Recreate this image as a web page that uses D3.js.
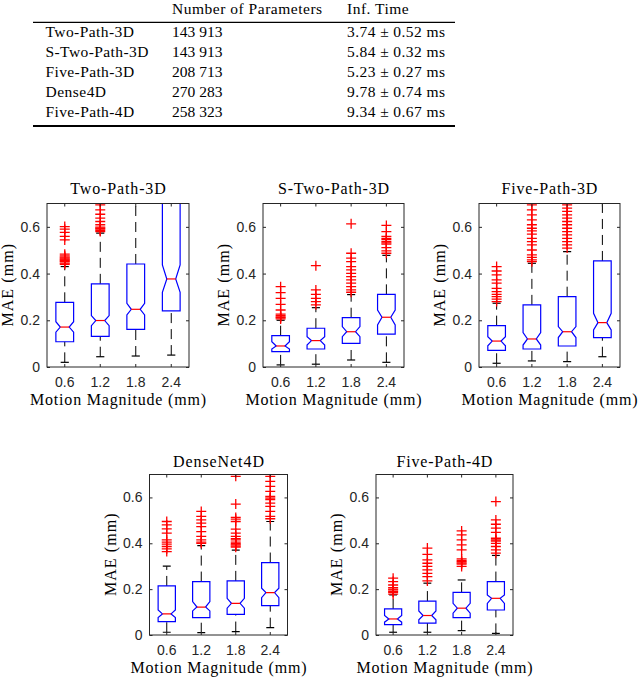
<!DOCTYPE html>
<html>
<head>
<meta charset="utf-8">
<script src="https://cdn.jsdelivr.net/npm/d3@7"></script>
<style>
  body { margin: 0; background: #fff; }
  svg { display: block; }
  .serif { font-family: "Liberation Serif", "Times New Roman", serif; fill: #000; }
  .tick text { font-family: "Liberation Sans", Arial, sans-serif; font-size: 14px; fill: #262626; }
  .tick line { stroke: #262626; }
</style>
</head>
<body>
<svg id="fig" width="640" height="677"></svg>
<script>

// ---- table data ----
var tableHeader = ["", "Number of Parameters", "Inf. Time"];
var tableModels = ["Two-Path-3D", "S-Two-Path-3D", "Five-Path-3D", "Dense4D", "Five-Path-4D"];
var tableParams = ["143 913", "143 913", "208 713", "270 283", "258 323"];
var tableTimes = ["3.74 ± 0.52 ms", "5.84 ± 0.32 ms", "5.23 ± 0.27 ms", "9.78 ± 0.74 ms", "9.34 ± 0.67 ms"];

// ---- boxplot data (MAE in mm), one row per panel, one value per magnitude ----
var magnitudes = ["0.6", "1.2", "1.8", "2.4"];
var panelTitles = ["Two-Path-3D", "S-Two-Path-3D", "Five-Path-3D", "DenseNet4D", "Five-Path-4D"];

var whiskerLo = [
  [0.020, 0.044, 0.047, 0.051],
  [0.009, 0.012, 0.030, 0.020],
  [0.016, 0.026, 0.023, 0.044],
  [0.012, 0.010, 0.015, 0.032],
  [0.012, 0.012, 0.019, 0.007]
];
var q1 = [
  [0.108, 0.131, 0.161, 0.240],
  [0.066, 0.077, 0.101, 0.141],
  [0.071, 0.077, 0.090, 0.126],
  [0.058, 0.076, 0.090, 0.128],
  [0.045, 0.052, 0.076, 0.109]
];
var medians = [
  [0.171, 0.199, 0.247, 0.377],
  [0.090, 0.113, 0.151, 0.213],
  [0.111, 0.120, 0.151, 0.190],
  [0.092, 0.122, 0.138, 0.185],
  [0.070, 0.085, 0.117, 0.160]
];
var q3 = [
  [0.277, 0.356, 0.441, 0.760],
  [0.134, 0.166, 0.211, 0.311],
  [0.177, 0.266, 0.301, 0.454],
  [0.214, 0.233, 0.236, 0.316],
  [0.114, 0.148, 0.186, 0.233]
];
var whiskerHi = [
  [0.430, 0.573, 0.750, 1.000],
  [0.200, 0.254, 0.310, 0.478],
  [0.273, 0.444, 0.494, 0.750],
  [0.300, 0.390, 0.370, 0.495],
  [0.175, 0.226, 0.240, 0.347]
];
var notchLo = [
  [0.149, 0.177, 0.223, 0.320],
  [0.077, 0.094, 0.130, 0.180],
  [0.091, 0.094, 0.126, 0.159],
  [0.076, 0.105, 0.117, 0.163],
  [0.056, 0.066, 0.095, 0.138]
];
var notchHi = [
  [0.194, 0.220, 0.273, 0.437],
  [0.108, 0.130, 0.173, 0.244],
  [0.130, 0.147, 0.173, 0.230],
  [0.109, 0.146, 0.160, 0.204],
  [0.085, 0.105, 0.138, 0.175]
];
var outliers = [
  [
    [0.601, 0.590, 0.576, 0.559, 0.544, 0.483, 0.476, 0.470, 0.466, 0.462, 0.459, 0.455, 0.451, 0.445, 0.440],
    [0.720, 0.709, 0.694, 0.673, 0.654, 0.637, 0.623, 0.609, 0.599, 0.594, 0.590, 0.585, 0.580],
    [],
    []
  ],
  [
    [0.344, 0.318, 0.294, 0.268, 0.244, 0.226, 0.220, 0.215, 0.211, 0.206],
    [0.434, 0.330, 0.311, 0.294, 0.280, 0.266],
    [0.613, 0.487, 0.466, 0.451, 0.430, 0.416, 0.401, 0.387, 0.373, 0.359, 0.344, 0.330, 0.320],
    [0.606, 0.580, 0.559, 0.551, 0.545, 0.537, 0.531, 0.526, 0.511, 0.497, 0.487]
  ],
  [
    [0.430, 0.411, 0.394, 0.373, 0.359, 0.337, 0.323, 0.311, 0.301, 0.291, 0.280],
    [0.694, 0.673, 0.651, 0.630, 0.609, 0.594, 0.583, 0.569, 0.551, 0.537, 0.523, 0.501, 0.480, 0.469, 0.459, 0.451],
    [0.694, 0.680, 0.666, 0.651, 0.637, 0.623, 0.609, 0.594, 0.580, 0.566, 0.551, 0.537, 0.523, 0.509],
    []
  ],
  [
    [0.495, 0.480, 0.463, 0.444, 0.415, 0.405, 0.396, 0.386, 0.376, 0.364],
    [0.539, 0.517, 0.502, 0.488, 0.473, 0.451, 0.430, 0.415, 0.405, 0.400],
    [0.692, 0.571, 0.513, 0.505, 0.495, 0.462, 0.444, 0.430, 0.420, 0.415, 0.405, 0.398, 0.393, 0.388, 0.383],
    [0.706, 0.692, 0.670, 0.648, 0.626, 0.604, 0.597, 0.590, 0.575, 0.561, 0.539, 0.517, 0.507]
  ],
  [
    [0.248, 0.233, 0.218, 0.207, 0.200, 0.197, 0.190, 0.186, 0.178],
    [0.379, 0.352, 0.328, 0.313, 0.299, 0.284, 0.269, 0.255, 0.236],
    [0.454, 0.437, 0.415, 0.393, 0.371, 0.332, 0.325, 0.320, 0.314, 0.309, 0.299],
    [0.582, 0.502, 0.483, 0.466, 0.448, 0.422, 0.415, 0.410, 0.400, 0.386, 0.371, 0.357]
  ]
];
var yTicks = [0, 0.2, 0.4, 0.6];

// ---- layout (pixels) ----
var panels = [
  {x: 47,    y: 203.5, w: 142, h: 163.5},
  {x: 263,   y: 203.5, w: 141, h: 163.5},
  {x: 479,   y: 203.5, w: 141, h: 163.5},
  {x: 149.5, y: 474.5, w: 138, h: 160.5},
  {x: 376,   y: 474.5, w: 137, h: 160.5}
];
var cmWiden = 1.1;   // Computer Modern is wider than Times

var svg = d3.select("#fig");

function stretch(sel, f) {
  sel.each(function() {
    var n = this.getComputedTextLength();
    d3.select(this).attr("textLength", n * f).attr("lengthAdjust", "spacing");
  });
}

// ---- table ----
var tbl = svg.append("g").attr("class", "serif").style("font-size", "15.5px");
var colX = [45.5, 172, 347];

tbl.selectAll("text.head")
  .data(tableHeader)
  .enter().append("text")
  .attr("class", "head")
  .attr("x", function(d, i) { return colX[i]; })
  .attr("y", 13.5)
  .text(function(d) { return d; })
  .call(stretch, 1.07);

tbl.append("line").attr("x1", 33).attr("x2", 455).attr("y1", 22.3).attr("y2", 22.3)
  .attr("stroke", "#000").attr("stroke-width", 1.3);
tbl.append("line").attr("x1", 33).attr("x2", 455).attr("y1", 126).attr("y2", 126)
  .attr("stroke", "#000").attr("stroke-width", 2);

var rows = tbl.selectAll("g.row")
  .data(tableModels)
  .enter().append("g")
  .attr("class", "row")
  .attr("transform", function(d, i) { return "translate(0," + (37 + i * 20) + ")"; });

rows.append("text").attr("x", colX[0]).text(function(d) { return d; }).call(stretch, 1.05);
rows.append("text").attr("x", colX[1]).text(function(d, i) { return tableParams[i]; });
rows.append("text").attr("x", colX[2]).text(function(d, i) { return tableTimes[i]; }).call(stretch, 1.06);

// ---- box plots ----
var plus = "M-5,0H5M0,-5V5";

panels.forEach(function(L, p) {
  var g = svg.append("g").attr("transform", "translate(" + L.x + "," + L.y + ")");

  var x = d3.scaleBand().domain(magnitudes).range([0, L.w]).padding(0);
  var y = d3.scaleLinear().domain([0, 0.7]).range([L.h, 0]);
  var bw = x.bandwidth() * 0.5;
  var inset = bw / 4;

  g.append("clipPath").attr("id", "clip" + p)
    .append("rect").attr("width", L.w).attr("height", L.h);

  var plot = g.append("g").attr("clip-path", "url(#clip" + p + ")");

  var boxes = plot.selectAll("g.box")
    .data(magnitudes)
    .enter().append("g")
    .attr("class", "box")
    .attr("transform", function(d) { return "translate(" + (x(d) + x.bandwidth() / 2) + ",0)"; });

  // whiskers
  boxes.append("line")
    .attr("y1", function(d, i) { return y(q3[p][i]); })
    .attr("y2", function(d, i) { return y(whiskerHi[p][i]); })
    .attr("stroke", "#000").attr("stroke-dasharray", "10,6");
  boxes.append("line")
    .attr("y1", function(d, i) { return y(whiskerLo[p][i]); })
    .attr("y2", function(d, i) { return y(q1[p][i]); })
    .attr("stroke", "#000").attr("stroke-dasharray", "10,6");

  // caps
  [whiskerLo, whiskerHi].forEach(function(arr) {
    boxes.append("line")
      .attr("x1", -bw * 0.23).attr("x2", bw * 0.23)
      .attr("y1", function(d, i) { return y(arr[p][i]); })
      .attr("y2", function(d, i) { return y(arr[p][i]); })
      .attr("stroke", "#000").attr("stroke-width", 1.2);
  });

  // notched box
  var line = d3.line();
  boxes.append("path")
    .attr("d", function(d, i) {
      var x0 = -bw / 2, x1 = bw / 2;
      return line([
        [x0, y(q1[p][i])], [x0, y(notchLo[p][i])], [x0 + inset, y(medians[p][i])],
        [x0, y(notchHi[p][i])], [x0, y(q3[p][i])], [x1, y(q3[p][i])],
        [x1, y(notchHi[p][i])], [x1 - inset, y(medians[p][i])], [x1, y(notchLo[p][i])],
        [x1, y(q1[p][i])]
      ]) + "Z";
    })
    .attr("fill", "none").attr("stroke", "#0000ff").attr("stroke-width", 1.2);

  // median
  boxes.append("line")
    .attr("x1", -bw / 2 + inset).attr("x2", bw / 2 - inset)
    .attr("y1", function(d, i) { return y(medians[p][i]); })
    .attr("y2", function(d, i) { return y(medians[p][i]); })
    .attr("stroke", "#ff0000").attr("stroke-width", 1.2);

  // outliers
  boxes.each(function(d, i) {
    d3.select(this).selectAll("path.out")
      .data(outliers[p][i])
      .enter().append("path")
      .attr("class", "out")
      .attr("d", plus)
      .attr("transform", function(v) { return "translate(0," + y(v) + ")"; })
      .attr("fill", "none").attr("stroke", "#ff0000").attr("stroke-width", 1.3);
  });

  // axes
  var fmt = function(d) { return d === 0 ? "0" : d3.format(".1f")(d); };
  g.append("g").call(d3.axisLeft(y).tickValues(yTicks).tickFormat(fmt).tickSize(-3).tickPadding(7))
    .call(function(a) { a.select(".domain").remove(); });
  g.append("g").attr("transform", "translate(" + L.w + ",0)")
    .call(d3.axisRight(y).tickValues(yTicks).tickFormat("").tickSize(-3))
    .call(function(a) { a.select(".domain").remove(); });
  g.append("g").attr("transform", "translate(0," + L.h + ")")
    .call(d3.axisBottom(x).tickSize(-3).tickPadding(10))
    .call(function(a) { a.select(".domain").remove(); });
  g.append("g")
    .call(d3.axisTop(x).tickSize(-3).tickFormat(""))
    .call(function(a) { a.select(".domain").remove(); });
  g.selectAll(".tick text").attr("font-family", null).attr("font-size", null);

  g.append("rect").attr("width", L.w).attr("height", L.h)
    .attr("fill", "none").attr("stroke", "#262626").attr("stroke-width", 1);

  // labels
  g.append("text").attr("class", "serif")
    .attr("x", L.w / 2).attr("y", p < 3 ? -9.5 : -8)
    .attr("text-anchor", "middle").style("font-size", "16px")
    .text(panelTitles[p]).call(stretch, cmWiden);

  g.append("text").attr("class", "serif")
    .attr("x", L.w / 2).attr("y", L.h + 37.5)
    .attr("text-anchor", "middle").style("font-size", "16px")
    .text("Motion Magnitude (mm)").call(stretch, cmWiden);

  g.append("text").attr("class", "serif")
    .attr("transform", "translate(-34," + (L.h / 2) + ") rotate(-90)")
    .attr("text-anchor", "middle").style("font-size", "16px")
    .text("MAE (mm)").call(stretch, cmWiden);
});

</script>
</body>
</html>
